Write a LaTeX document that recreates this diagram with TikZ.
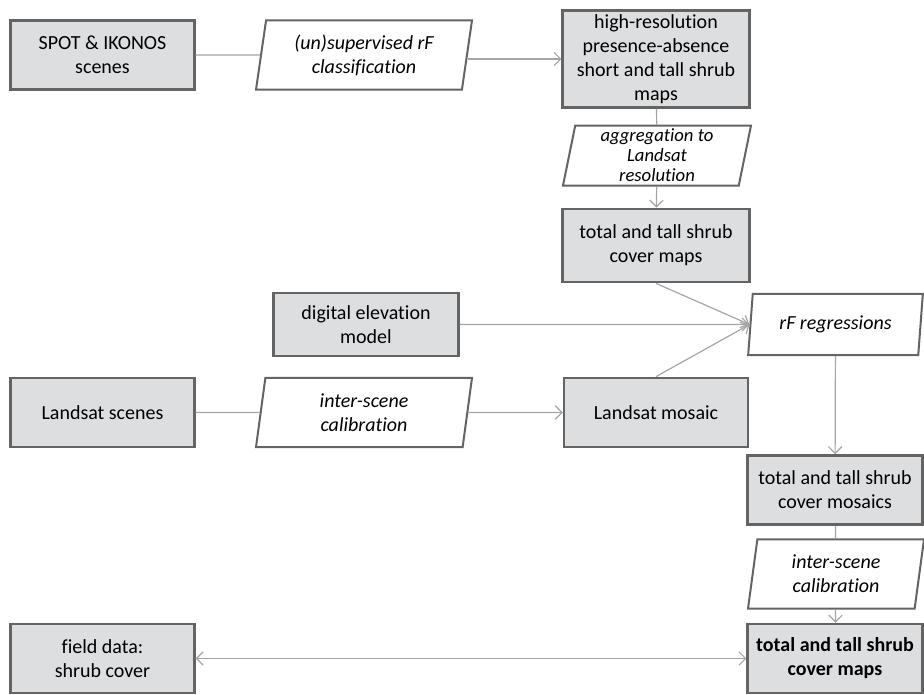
\documentclass[tikz,border=0pt]{standalone}
\usepackage{fontspec}
\setmainfont[Ligatures=NoCommon]{Carlito}
\usetikzlibrary{shapes.geometric,arrows.meta}
\definecolor{boxgray}{RGB}{221,222,224}
\definecolor{edgegray}{RGB}{100,100,100}
\definecolor{linegray}{RGB}{165,165,165}

\tikzset{
  databox/.style={rectangle, draw=edgegray, line width=1.8pt, fill=boxgray,
    minimum width=138pt, minimum height=52pt, align=center, inner sep=2pt,
    font=\fontsize{15}{18}\selectfont},
  procbox/.style={trapezium, trapezium left angle=77, trapezium right angle=103,
    trapezium stretches body, draw=edgegray, line width=1.5pt, fill=white,
    minimum width=162pt, minimum height=52pt, align=center, inner sep=1pt,
    font=\fontsize{15}{18}\selectfont\itshape},
  flow/.style={draw=linegray, line width=0.9pt, -{Straight Barb[length=5pt,width=10pt]}},
  plain/.style={draw=linegray, line width=0.9pt}
}

\begin{document}
\begin{tikzpicture}[x=0.75pt, y=-0.75pt]
  \useasboundingbox (0,0) rectangle (924,694);
  % left column
  \node[databox] (spot) at (102.5,55) {SPOT \& IKONOS\\scenes};
  \node[databox] (lscenes) at (102.5,412.5) {Landsat scenes};
  \node[databox] (field) at (102.5,658.5) {field data:\\shrub cover};
  % second column
  \node[procbox] (classif) at (364,55) {(un)supervised rF\\classification};
  \node[databox, minimum width=139pt, minimum height=47pt] (dem) at (366,324.5) {digital elevation\\model};
  \node[procbox] (calib) at (364,412.5) {inter-scene\\calibration};
  % third column
  \node[databox, minimum width=140pt, minimum height=73pt] (hires) at (656,59) {high-resolution\\presence-absence\\short and tall shrub\\maps};
  \node[procbox, minimum width=141pt, minimum height=45pt, inner sep=0pt, font=\fontsize{14}{15}\selectfont\itshape] (aggr) at (657,155.5) {aggregation to\\Landsat\\resolution};
  \node[databox, minimum width=140pt, minimum height=55pt] (totmaps) at (656,245.5) {total and tall shrub\\cover maps};
  \node[databox] (mosaic) at (656,412.5) {Landsat mosaic};
  % right column
  \node[procbox, minimum width=131pt, minimum height=46pt] (regr) at (835.5,324.5) {rF regressions};
  \node[databox, minimum width=131pt] (totmos) at (835,490) {total and tall shrub\\cover mosaics};
  \node[procbox, minimum width=132pt] (calib2) at (836,574) {inter-scene\\calibration};
  \node[databox, minimum width=131pt, font=\fontsize{15}{18}\selectfont\bfseries] (final) at (835,658.5) {total and tall shrub\\cover maps};

  \path[plain] (spot) -- (classif);
  \path[flow] (classif.east |- hires) -- (hires.west);
  \path[plain] (hires) -- (aggr);
  \path[flow] (aggr) -- (totmaps);
  \path[flow] (totmaps.south) -- (regr.west);
  \path[flow] (dem) -- (regr.west);
  \path[flow] (mosaic.north) -- (regr.west);
  \path[plain] (lscenes) -- (calib);
  \path[flow] (calib) -- (mosaic);
  \path[flow] (regr) -- (totmos);
  \path[plain] (totmos) -- (calib2);
  \path[flow] (calib2) -- (final);
  \path[flow, {Straight Barb[length=5pt,width=10pt]}-{Straight Barb[length=5pt,width=10pt]}] (field) -- (final);
\end{tikzpicture}
\end{document}
